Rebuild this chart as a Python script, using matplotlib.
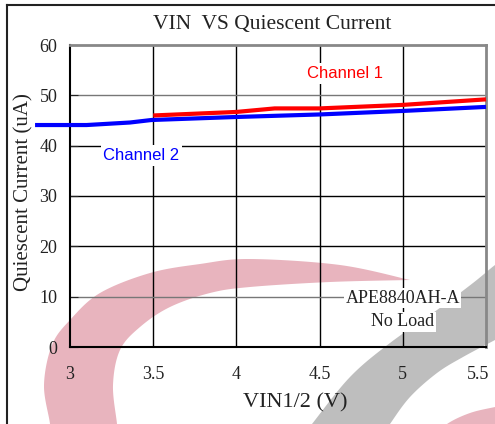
import numpy as np
import matplotlib
matplotlib.use("Agg")
import matplotlib.pyplot as plt
import matplotlib.transforms as mtransforms
from matplotlib.patches import Polygon
from matplotlib.lines import Line2D

# data
ch2_vin = [2.79, 3.10, 3.36, 3.49, 4.0, 4.5, 5.0, 5.5]
ch2_iq = [44.1, 44.1, 44.6, 45.1, 45.7, 46.2, 46.9, 47.7]
ch1_vin = [3.5, 4.0, 4.23, 4.5, 5.0, 5.5]
ch1_iq = [46.0, 46.7, 47.4, 47.4, 48.1, 49.2]
xticks = [3, 3.5, 4, 4.5, 5, 5.5]
xticklabels = ["3", "3.5", "4", "4.5", "5", "5.5"]
yticks = [0, 10, 20, 30, 40, 50, 60]

W, H = 495, 424
serif = "Liberation Serif"
sans = "Liberation Sans"


def smooth(pts, n=16):
    # catmull-rom through the outline points of the watermark
    p = np.array(pts, float)
    p = np.vstack([p[0], p, p[-1]])
    out = []
    for i in range(1, len(p) - 2):
        p0, p1, p2, p3 = p[i - 1], p[i], p[i + 1], p[i + 2]
        t = np.linspace(0, 1, n, endpoint=False)[:, None]
        out.append(0.5 * ((2 * p1) + (-p0 + p2) * t + (2 * p0 - 5 * p1 + 4 * p2 - p3) * t ** 2
                          + (-p0 + 3 * p1 - 3 * p2 + p3) * t ** 3))
    out.append(p[-2][None, :])
    return np.vstack(out)


def to_fig(a):
    return np.column_stack([a[:, 0] / W, 1 - a[:, 1] / H])


fig = plt.figure(figsize=(W / 100, H / 100), dpi=100)
fig.patch.set_facecolor("white")

# background logo swooshes
pink_outer = [(50, 440), (50, 424), (44, 385), (52, 345), (70, 320), (100, 293), (150, 273),
              (200, 264), (250, 259), (340, 265), (410, 280)]
pink_inner = [(410, 280), (330, 282), (250, 287), (210, 293), (170, 307), (140, 327),
              (120, 350), (113, 385), (117, 424), (118, 440)]
pink = np.vstack([smooth(pink_outer), smooth(pink_inner)])
gray_top = [(300, 440), (312, 424), (350, 377), (390, 343), (437, 310), (473, 283), (495, 265), (510, 255)]
gray_bot = [(510, 332), (495, 340), (463, 357), (437, 373), (410, 397), (390, 424), (380, 440)]
gray = np.vstack([smooth(gray_top), smooth(gray_bot)])
pink2 = smooth([(430, 440), (447, 424), (470, 413), (495, 407), (510, 404)])
pink2 = np.vstack([pink2, [(510, 440)]])
for shape, col in [(pink, "#e8b4be"), (gray, "#bebebe"), (pink2, "#e8b4be")]:
    fig.add_artist(Polygon(to_fig(shape), closed=True, facecolor=col, edgecolor="none", zorder=-2))

# outer frame (left and top)
fig.add_artist(Line2D([7 / W, 7 / W], [0, 1 - 5 / H], color="#222222", lw=1.5))
fig.add_artist(Line2D([7 / W, 1], [1 - 5 / H, 1 - 5 / H], color="#222222", lw=1.5))

ax = fig.add_axes([70 / W, 1 - 347 / H, 416 / W, 302 / H])
ax.set_facecolor("none")
ax.set_xlim(3, 5.5)
ax.set_ylim(0, 60)

for v in xticks[1:-1]:
    ax.axvline(v, color="black", lw=1, zorder=1)
for v in yticks[1:-1]:
    c = "#777777" if v in (10, 50) else "black"
    ax.axhline(v, color=c, lw=1, zorder=1)

for s in ["left", "bottom"]:
    ax.spines[s].set_color("black")
    ax.spines[s].set_linewidth(1.5)
for s in ["top", "right"]:
    ax.spines[s].set_color("#888888")
    ax.spines[s].set_linewidth(2)

ax.set_xticks(xticks)
ax.set_xticklabels(xticklabels)
ax.set_yticks(yticks)
ax.tick_params(axis="x", length=0, pad=14, labelsize=13, colors="#222222")
ax.tick_params(axis="y", direction="in", length=6, pad=9, labelsize=13, colors="#222222")
for lab in ax.get_xticklabels() + ax.get_yticklabels():
    lab.set_fontfamily(serif)
# last x label sits right at the edge, nudge it in so it is not cut
last = ax.get_xticklabels()[-1]
last.set_transform(last.get_transform() + mtransforms.ScaledTranslation(-6 / 72, 0, fig.dpi_scale_trans))

ax.plot(ch2_vin, ch2_iq, color="#0000ff", lw=3, clip_on=False, zorder=3, solid_capstyle="butt")
ax.plot(ch1_vin, ch1_iq, color="#ff0000", lw=3, clip_on=False, zorder=4, solid_capstyle="butt")

box = dict(facecolor="white", edgecolor="none", pad=2)
ax.text(4.65, 54.4, "Channel 1", color="#ff0000", fontsize=12, family=sans,
        ha="center", va="center", bbox=box, zorder=5)
ax.text(3.43, 38.1, "Channel 2", color="#0000ff", fontsize=12, family=sans,
        ha="center", va="center", bbox=box, zorder=5)
ax.text(5.0, 9.7, "APE8840AH-A", color="#222222", fontsize=13, family=serif,
        ha="center", va="center", bbox=dict(facecolor="white", edgecolor="none", pad=1), zorder=5)
ax.text(5.0, 5.0, "No Load", color="#222222", fontsize=13, family=serif,
        ha="center", va="center", bbox=dict(facecolor="white", edgecolor="none", pad=1), zorder=5)

fig.text(272 / W, 1 - 25 / H, "VIN  VS Quiescent Current", fontsize=15.5, family=serif,
         ha="center", va="center", color="#222222")
fig.text(295 / W, 1 - 403 / H, "VIN1/2 (V)", fontsize=16, family=serif,
         ha="center", va="center", color="#222222")
fig.text(24 / W, 1 - 192 / H, "Quiescent Current (uA)", fontsize=15, family=serif,
         ha="center", va="center", rotation=90, color="#222222")

fig.savefig("out.png", dpi=100)
